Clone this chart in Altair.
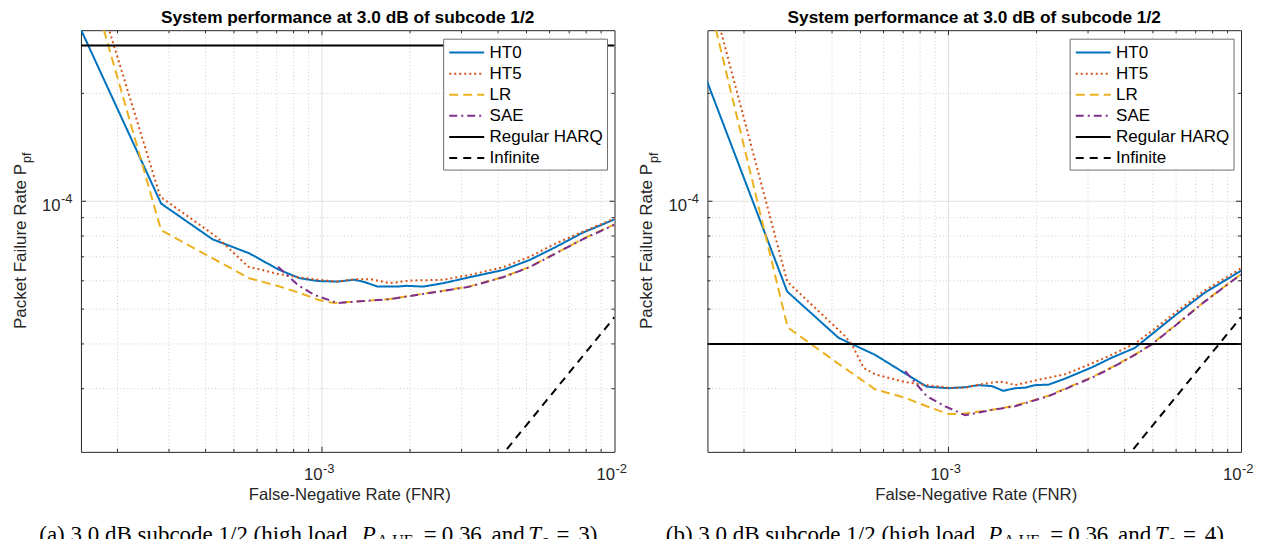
import altair as alt
import pandas as pd

SANS = "Liberation Sans"
SERIF = "Liberation Serif"

SERIES = ["HT0", "HT5", "LR", "SAE", "Regular HARQ", "Infinite"]
COLORS = ["#0072BD", "#D95319", "#EDB120", "#7E2F8E", "#000000", "#000000"]
DASHES = [[1, 0], [2, 3], [9, 5], [8, 4, 2, 4], [1, 0], [8, 6]]

TITLE = "System performance at 3.0 dB of subcode 1/2"
X_TITLE = "False-Negative Rate (FNR)"
Y_TITLE = "Packet Failure Rate P"
Y_SUB = "pf"

X_DOMAIN = [1.5e-4, 1e-2]
Y_DOMAIN = [2e-5, 3e-4]
X_MAJOR = [1e-3]
X_MINOR = [2e-4, 3e-4, 4e-4, 5e-4, 6e-4, 7e-4, 8e-4, 9e-4,
           2e-3, 3e-3, 4e-3, 5e-3, 6e-3, 7e-3, 8e-3, 9e-3]
Y_MAJOR = [1e-4]
Y_MINOR = [3e-5, 4e-5, 5e-5, 6e-5, 7e-5, 8e-5, 9e-5, 2e-4]
X_LABEL_VALUES = [1e-3, 1e-2]
X_LABEL_EXP = ["-3", "-2"]
Y_LABEL_VALUES = [1e-4]
Y_LABEL_EXP = ["-4"]

# ---------------- panel (a) ----------------
A_HT0_X = [1.41e-4, 2.82e-4, 4.23e-4, 5.64e-4, 7.1e-4, 8.4e-4, 9.7e-4, 1.13e-3, 1.29e-3, 1.39e-3, 1.55e-3,
           1.81e-3, 1.95e-3, 2.22e-3, 2.6e-3, 3.2e-3, 4.16e-3, 5.13e-3, 6.31e-3, 7.78e-3, 1.0e-2]
A_HT0_Y = [3.36e-4, 9.85e-5, 7.83e-5, 7.16e-5, 6.45e-5, 6.1e-5, 5.99e-5, 5.97e-5, 6.04e-5, 5.96e-5, 5.78e-5,
           5.78e-5, 5.81e-5, 5.78e-5, 5.91e-5, 6.14e-5, 6.43e-5, 6.86e-5, 7.46e-5, 8.17e-5, 8.9e-5]
A_HT5_X = [1.41e-4, 2.8e-4, 4.36e-4, 5.6e-4, 7.08e-4, 8.3e-4, 9.7e-4, 1.13e-3, 1.29e-3, 1.47e-3, 1.71e-3,
           2.0e-3, 2.6e-3, 3.2e-3, 4.16e-3, 5.13e-3, 6.31e-3, 7.78e-3, 1.0e-2]
A_HT5_Y = [6.4e-4, 1.03e-4, 7.96e-5, 6.57e-5, 6.27e-5, 6.14e-5, 6.04e-5, 5.97e-5, 6.06e-5, 6.06e-5, 5.91e-5,
           6.01e-5, 6.04e-5, 6.23e-5, 6.55e-5, 7.0e-5, 7.63e-5, 8.22e-5, 8.95e-5]
A_LR_X = [1.41e-4, 2.82e-4, 5.64e-4, 7.08e-4, 8.4e-4, 9.7e-4, 1.1e-3, 1.39e-3, 1.71e-3, 2.11e-3, 2.6e-3,
          3.2e-3, 4.16e-3, 5.13e-3, 6.31e-3, 7.78e-3, 1.0e-2]
A_LR_Y = [6.0e-4, 8.3e-5, 6.1e-5, 5.8e-5, 5.55e-5, 5.31e-5, 5.2e-5, 5.27e-5, 5.34e-5, 5.49e-5, 5.63e-5,
          5.79e-5, 6.15e-5, 6.56e-5, 7.17e-5, 7.85e-5, 8.62e-5]
A_SAE_X = [7.08e-4, 8.27e-4, 9.42e-4, 1.13e-3, 1.39e-3, 1.71e-3, 2.11e-3, 2.6e-3, 3.2e-3, 4.16e-3, 5.13e-3,
           6.31e-3, 7.78e-3, 1.0e-2]
A_SAE_Y = [6.57e-5, 5.84e-5, 5.48e-5, 5.2e-5, 5.27e-5, 5.33e-5, 5.48e-5, 5.62e-5, 5.78e-5, 6.14e-5, 6.55e-5,
           7.16e-5, 7.83e-5, 8.6e-5]
A_HARQ_X = [1.5e-4, 1.0e-2]
A_HARQ_Y = [2.72e-4, 2.72e-4]
A_INF_X = [4.0e-3, 1.0e-2]
A_INF_Y = [1.9e-5, 4.75e-5]
A_CAPTION = ["(a) 3.0 dB subcode 1/2 (high load,", "P", "A,UE", "=", "0.36", "and", "T", "c", "=", "3)"]

# ---------------- panel (b) ----------------
B_HT0_X = [1.41e-4, 2.81e-4, 4.21e-4, 5.61e-4, 7.11e-4, 8.43e-4, 1.0e-3, 1.14e-3, 1.27e-3, 1.41e-3, 1.54e-3,
           1.69e-3, 1.83e-3, 1.98e-3, 2.2e-3, 2.5e-3, 3.09e-3, 3.61e-3, 4.34e-3, 4.94e-3, 6.1e-3, 7.52e-3, 1.0e-2]
B_HT0_Y = [2.45e-4, 5.6e-5, 4.16e-5, 3.73e-5, 3.31e-5, 3.04e-5, 3.01e-5, 3.03e-5, 3.07e-5, 3.05e-5, 2.96e-5,
           3.01e-5, 3.02e-5, 3.07e-5, 3.08e-5, 3.2e-5, 3.44e-5, 3.66e-5, 3.9e-5, 4.25e-5, 4.88e-5, 5.56e-5, 6.4e-5]
B_HT5_X = [1.41e-4, 2.81e-4, 4.44e-4, 4.68e-4, 5.13e-4, 5.61e-4, 7.11e-4, 8.43e-4, 1.0e-3, 1.14e-3, 1.27e-3,
           1.44e-3, 1.55e-3, 1.69e-3, 1.93e-3, 2.2e-3, 2.5e-3, 3.09e-3, 3.61e-3, 4.34e-3, 4.94e-3, 6.1e-3,
           7.52e-3, 1.0e-2]
B_HT5_Y = [5.0e-4, 5.97e-5, 4.2e-5, 3.98e-5, 3.43e-5, 3.29e-5, 3.13e-5, 3.07e-5, 3.02e-5, 3.02e-5, 3.08e-5,
           3.13e-5, 3.13e-5, 3.07e-5, 3.15e-5, 3.22e-5, 3.29e-5, 3.53e-5, 3.73e-5, 4.01e-5, 4.34e-5, 4.96e-5,
           5.64e-5, 6.5e-5]
B_LR_X = [1.41e-4, 2.82e-4, 4.21e-4, 5.61e-4, 7.11e-4, 8.43e-4, 1.0e-3, 1.1e-3, 1.41e-3, 1.69e-3, 1.93e-3,
          2.2e-3, 2.5e-3, 3.09e-3, 3.61e-3, 4.34e-3, 4.94e-3, 6.1e-3, 7.52e-3, 1.0e-2]
B_LR_Y = [4.66e-4, 4.45e-5, 3.52e-5, 2.99e-5, 2.83e-5, 2.68e-5, 2.55e-5, 2.55e-5, 2.62e-5, 2.69e-5, 2.78e-5,
          2.87e-5, 3.0e-5, 3.23e-5, 3.44e-5, 3.74e-5, 3.99e-5, 4.58e-5, 5.26e-5, 6.26e-5]
B_SAE_X = [7.11e-4, 8.43e-4, 9.74e-4, 1.14e-3, 1.41e-3, 1.69e-3, 1.93e-3, 2.2e-3, 2.5e-3, 3.09e-3, 3.61e-3,
           4.34e-3, 4.94e-3, 6.1e-3, 7.52e-3, 1.0e-2]
B_SAE_Y = [3.36e-5, 2.86e-5, 2.68e-5, 2.53e-5, 2.62e-5, 2.68e-5, 2.77e-5, 2.86e-5, 2.99e-5, 3.22e-5, 3.43e-5,
           3.73e-5, 3.98e-5, 4.57e-5, 5.25e-5, 6.25e-5]
B_HARQ_X = [1.5e-4, 1.0e-2]
B_HARQ_Y = [4.0e-5, 4.0e-5]
B_INF_X = [4.0e-3, 1.0e-2]
B_INF_Y = [1.9e-5, 4.75e-5]
B_CAPTION = ["(b) 3.0 dB subcode 1/2 (high load,", "P", "A,UE", "=", "0.36", "and", "T", "c", "=", "4)"]

# ---------------- layout ----------------
W, H = 534, 422
# caption segment x offsets (px from plot left) and styles
CAP_POS = [-41.7, 281, 296, 343, 361, 411, 447.7, 461, 476, 497.7]
CAP_STYLE = ["n", "i", "s", "n", "n", "n", "i", "s", "n", "n"]
CAP_BASE = 512
# legend box (px from plot origin)
LEG_X0, LEG_X1, LEG_Y0, LEG_Y1 = 363, 527, 9, 140
LEG_ROW0, LEG_ROW_STEP = 22.4, 21.1
LEG_SYM0, LEG_SYM1, LEG_TXT = 368.6, 403.6, 409


def long_df(pairs):
    rows = []
    for name, xs, ys in pairs:
        for x, y in zip(xs, ys):
            rows.append({"fnr": x, "pf": y, "series": name})
    return pd.DataFrame(rows)


def panel(pairs, caption):
    xs = alt.Scale(type="log", domain=X_DOMAIN)
    ys = alt.Scale(type="log", domain=Y_DOMAIN)

    def X(f):
        return alt.X(f, type="quantitative", scale=xs, axis=None)

    def Y(f):
        return alt.Y(f, type="quantitative", scale=ys, axis=None)

    one = pd.DataFrame({"k": [0]})
    layers = []
    # grid
    layers.append(alt.Chart(pd.DataFrame({"v": X_MINOR})).mark_rule(
        color="#bfbfbf", strokeDash=[1, 2.5], strokeWidth=0.8).encode(x=X("v")))
    layers.append(alt.Chart(pd.DataFrame({"v": Y_MINOR})).mark_rule(
        color="#bfbfbf", strokeDash=[1, 2.5], strokeWidth=0.8).encode(y=Y("v")))
    layers.append(alt.Chart(pd.DataFrame({"v": X_MAJOR})).mark_rule(
        color="#e0e0e0", strokeWidth=1).encode(x=X("v")))
    layers.append(alt.Chart(pd.DataFrame({"v": Y_MAJOR})).mark_rule(
        color="#e0e0e0", strokeWidth=1).encode(y=Y("v")))

    # data lines
    df = long_df(pairs)
    layers.append(alt.Chart(df).mark_line(clip=True, strokeWidth=2).encode(
        x=X("fnr"), y=Y("pf"),
        color=alt.Color("series:N", scale=alt.Scale(domain=SERIES, range=COLORS), legend=None),
        strokeDash=alt.StrokeDash("series:N", scale=alt.Scale(domain=SERIES, range=DASHES), legend=None),
    ))

    # ticks (inward, all four sides)
    tick_c = "#262626"
    for vals, ln in ((X_MINOR, 3), (X_MAJOR, 5)):
        d = pd.DataFrame({"v": vals})
        layers.append(alt.Chart(d).mark_rule(color=tick_c, strokeWidth=1).encode(
            x=X("v"), y=alt.value(H), y2=alt.value(H - ln)))
        layers.append(alt.Chart(d).mark_rule(color=tick_c, strokeWidth=1).encode(
            x=X("v"), y=alt.value(0), y2=alt.value(ln)))
    for vals, ln in ((Y_MINOR, 3), (Y_MAJOR, 5)):
        d = pd.DataFrame({"v": vals})
        layers.append(alt.Chart(d).mark_rule(color=tick_c, strokeWidth=1).encode(
            y=Y("v"), x=alt.value(0), x2=alt.value(ln)))
        layers.append(alt.Chart(d).mark_rule(color=tick_c, strokeWidth=1).encode(
            y=Y("v"), x=alt.value(W), x2=alt.value(W - ln)))

    # legend (box, line samples, labels)
    layers.append(alt.Chart(one).mark_rect(fill="#ffffff", stroke="#6e6e6e", strokeWidth=1).encode(
        x=alt.value(LEG_X0), x2=alt.value(LEG_X1), y=alt.value(LEG_Y0), y2=alt.value(LEG_Y1)))
    for i, (name, col, dash) in enumerate(zip(SERIES, COLORS, DASHES)):
        yy = LEG_ROW0 + i * LEG_ROW_STEP
        layers.append(alt.Chart(one).mark_rule(color=col, strokeDash=dash, strokeWidth=2).encode(
            x=alt.value(LEG_SYM0), x2=alt.value(LEG_SYM1), y=alt.value(yy)))
        layers.append(alt.Chart(pd.DataFrame({"t": [name]})).mark_text(
            align="left", baseline="middle", font=SANS, fontSize=17, color="#000000").encode(
            x=alt.value(LEG_TXT), y=alt.value(yy + 0.5), text="t:N"))

    # tick labels 10^k
    xl = pd.DataFrame({"v": X_LABEL_VALUES, "base": ["10"] * len(X_LABEL_VALUES), "exp": X_LABEL_EXP})
    layers.append(alt.Chart(xl).mark_text(align="right", baseline="alphabetic", font=SANS, fontSize=16.7,
                                          color="#262626", dx=0.5).encode(
        x=X("v"), y=alt.value(H + 28), text="base:N"))
    layers.append(alt.Chart(xl).mark_text(align="left", baseline="alphabetic", font=SANS, fontSize=13,
                                          color="#262626", dx=1).encode(
        x=X("v"), y=alt.value(H + 21), text="exp:N"))
    yl = pd.DataFrame({"v": Y_LABEL_VALUES, "base": ["10"] * len(Y_LABEL_VALUES), "exp": Y_LABEL_EXP})
    layers.append(alt.Chart(yl).mark_text(align="right", baseline="alphabetic", font=SANS, fontSize=16.7,
                                          color="#262626", dy=9.3).encode(
        y=Y("v"), x=alt.value(-20.5), text="base:N"))
    layers.append(alt.Chart(yl).mark_text(align="left", baseline="alphabetic", font=SANS, fontSize=13,
                                          color="#262626", dy=2).encode(
        y=Y("v"), x=alt.value(-20), text="exp:N"))

    # axis titles
    layers.append(alt.Chart(pd.DataFrame({"t": [X_TITLE]})).mark_text(
        align="center", baseline="alphabetic", font=SANS, fontSize=16.7, color="#262626").encode(
        x=alt.value(W / 2 + 2), y=alt.value(H + 48), text="t:N"))
    layers.append(alt.Chart(pd.DataFrame({"t": [Y_TITLE]})).mark_text(
        align="left", baseline="alphabetic", angle=270, font=SANS, fontSize=17, color="#262626").encode(
        x=alt.value(-55), y=alt.value(299), text="t:N"))
    layers.append(alt.Chart(pd.DataFrame({"t": [Y_SUB]})).mark_text(
        align="left", baseline="alphabetic", angle=270, font=SANS, fontSize=12.7, color="#262626").encode(
        x=alt.value(-49.5), y=alt.value(133), text="t:N"))

    # caption
    for txt, px, st in zip(caption, CAP_POS, CAP_STYLE):
        kw = dict(align="left", baseline="alphabetic", font=SERIF, color="#000000")
        if st == "n":
            kw.update(fontSize=23)
            yy = CAP_BASE
        elif st == "i":
            kw.update(fontSize=23, fontStyle="italic")
            yy = CAP_BASE
        else:
            kw.update(fontSize=16)
            yy = CAP_BASE + 4.5
        layers.append(alt.Chart(pd.DataFrame({"t": [txt]})).mark_text(**kw).encode(
            x=alt.value(px), y=alt.value(yy), text="t:N"))

    return alt.layer(*layers).properties(
        width=W, height=H,
        title=alt.TitleParams(TITLE, font=SANS, fontSize=17.3, fontWeight="bold", color="#000000",
                              anchor="middle", offset=3),
    )


left = panel([("HT0", A_HT0_X, A_HT0_Y), ("HT5", A_HT5_X, A_HT5_Y), ("LR", A_LR_X, A_LR_Y),
              ("SAE", A_SAE_X, A_SAE_Y), ("Regular HARQ", A_HARQ_X, A_HARQ_Y),
              ("Infinite", A_INF_X, A_INF_Y)], A_CAPTION)
right = panel([("HT0", B_HT0_X, B_HT0_Y), ("HT5", B_HT5_X, B_HT5_Y), ("LR", B_LR_X, B_LR_Y),
               ("SAE", B_SAE_X, B_SAE_Y), ("Regular HARQ", B_HARQ_X, B_HARQ_Y),
               ("Infinite", B_INF_X, B_INF_Y)], B_CAPTION)

chart = alt.hconcat(left, right, spacing=93, bounds="flush").resolve_scale(
    color="independent", strokeDash="independent"
).properties(
    padding={"left": 3, "top": 0, "right": 0, "bottom": 0},
    background="#ffffff",
).configure_view(stroke="#262626", strokeWidth=1)

chart.save("out.html", embed_options={"renderer": "svg", "actions": False})
